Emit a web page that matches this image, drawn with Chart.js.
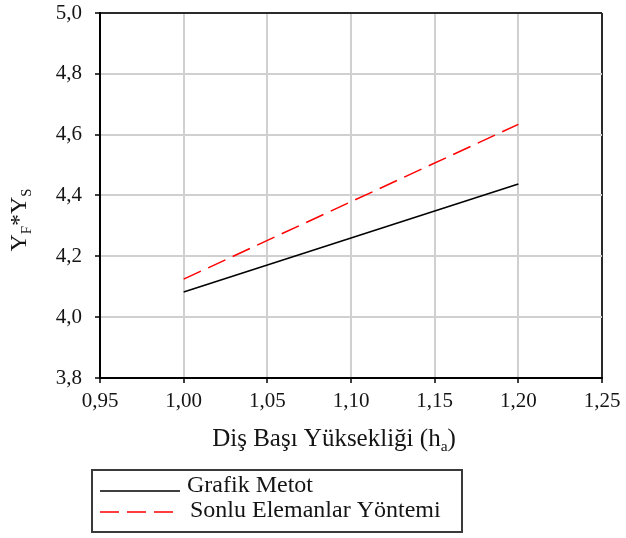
<!DOCTYPE html>
<html>
<head>
<meta charset="utf-8">
<script src="https://cdn.jsdelivr.net/npm/chart.js@4/dist/chart.umd.min.js"></script>
<style>
  html, body { margin: 0; padding: 0; background: #fff; }
  #wrap { width: 626px; height: 538px; }
</style>
</head>
<body>
<div id="wrap"><canvas id="c" width="626" height="538"></canvas></div>
<script>
// Diş başı yüksekliği (ha) values and the two methods' Y_F*Y_S results
const headHeights = [1.00, 1.20];
const grafikMetot = [4.083, 4.438];
const sonluElemanlar = [4.125, 4.634];

const seriesNames = ['Grafik Metot', 'Sonlu Elemanlar Yöntemi'];
const xTickLabels = ['0,95', '1,00', '1,05', '1,10', '1,15', '1,20', '1,25'];
const yTickLabels = ['3,8', '4,0', '4,2', '4,4', '4,6', '4,8', '5,0'];

const SERIF = '"Liberation Serif", "Times New Roman", serif';
const TEXT = '#141414';

const toPoints = (xs, ys) => xs.map((x, i) => ({ x: x, y: ys[i] }));

// Draws a run of text pieces, some as subscripts, starting at (x, baseline)
function drawRich(ctx, parts, x, y, size) {
  let cx = x;
  for (const p of parts) {
    const s = p.sub ? size * 0.62 : size;
    ctx.font = s + 'px ' + SERIF;
    ctx.fillText(p.t, cx, y + (p.sub ? size * 0.2 : 0));
    cx += ctx.measureText(p.t).width;
  }
}
function richWidth(ctx, parts, size) {
  let w = 0;
  for (const p of parts) {
    ctx.font = (p.sub ? size * 0.62 : size) + 'px ' + SERIF;
    w += ctx.measureText(p.t).width;
  }
  return w;
}

// Axis titles with subscripts
const axisTitles = {
  id: 'axisTitles',
  afterDraw(chart) {
    const ctx = chart.ctx;
    ctx.save();
    ctx.fillStyle = TEXT;
    ctx.textBaseline = 'alphabetic';
    ctx.textAlign = 'left';
    // x title
    const xParts = [{ t: 'Diş Başı Yüksekliği (h' }, { t: 'a', sub: true }, { t: ')' }];
    const xw = richWidth(ctx, xParts, 25);
    drawRich(ctx, xParts, 334 - xw / 2, 446, 25);
    // y title, rotated
    const yParts = [{ t: 'Y' }, { t: 'F', sub: true }, { t: '*Y' }, { t: 'S', sub: true }];
    const yw = richWidth(ctx, yParts, 24);
    ctx.translate(26, 220);
    ctx.rotate(-Math.PI / 2);
    drawRich(ctx, yParts, -yw / 2, 0, 24);
    ctx.restore();
  }
};

// Framed legend with line samples taken from the datasets
const framedLegend = {
  id: 'framedLegend',
  afterDraw(chart) {
    const ctx = chart.ctx;
    ctx.save();
    ctx.strokeStyle = '#3a3a3a';
    ctx.lineWidth = 2;
    ctx.strokeRect(92, 470, 370, 62);
    const rows = [
      { lineY: 491, textX: 187, base: 492, lineEnd: 180 },
      { lineY: 512, textX: 190, base: 517, lineEnd: 173 }
    ];
    chart.data.datasets.forEach((ds, i) => {
      const r = rows[i];
      ctx.strokeStyle = ds.borderColor;
      ctx.lineWidth = ds.borderWidth;
      ctx.setLineDash(ds.borderDash || []);
      ctx.beginPath();
      ctx.moveTo(100, r.lineY);
      ctx.lineTo(r.lineEnd, r.lineY);
      ctx.stroke();
      ctx.setLineDash([]);
      ctx.fillStyle = TEXT;
      ctx.font = '24px ' + SERIF;
      ctx.textBaseline = 'alphabetic';
      ctx.textAlign = 'left';
      ctx.fillText(ds.label, r.textX, r.base);
    });
    ctx.restore();
  }
};

const gridColor = (ctx) => ctx.index === 6 ? '#2a2a2a' : '#d0d0d0';

new Chart(document.getElementById('c'), {
  type: 'line',
  data: {
    datasets: [
      {
        label: seriesNames[0],
        data: toPoints(headHeights, grafikMetot),
        borderColor: '#000000',
        borderWidth: 1.5,
        pointRadius: 0,
        tension: 0
      },
      {
        label: seriesNames[1],
        data: toPoints(headHeights, sonluElemanlar),
        borderColor: '#ff0000',
        borderWidth: 1.5,
        borderDash: [19, 8],
        pointRadius: 0,
        tension: 0
      }
    ]
  },
  options: {
    responsive: false,
    animation: false,
    layout: { padding: { left: 0, right: 24, top: 13, bottom: 100 } },
    plugins: {
      legend: { display: false },
      tooltip: { enabled: false }
    },
    scales: {
      x: {
        type: 'linear',
        min: 0.95,
        max: 1.25,
        afterFit: (s) => { s.height = 60; s.paddingLeft = 0; s.paddingRight = 0; },
        afterBuildTicks: (s) => {
          s.ticks = xTickLabels.map((_, i) => ({ value: 0.95 + i * 0.05 }));
        },
        ticks: {
          callback: (v, i) => xTickLabels[i],
          font: { family: SERIF, size: 21 },
          color: TEXT,
          padding: 6,
          maxRotation: 0,
          autoSkip: false
        },
        grid: {
          color: gridColor,
          lineWidth: 2,
          tickColor: '#000',
          tickWidth: 1.5,
          tickLength: 5,
          drawTicks: true
        },
        border: { color: '#000', width: 2 }
      },
      y: {
        type: 'linear',
        min: 3.8,
        max: 5.0,
        afterFit: (s) => { s.width = 100; s.paddingTop = 0; s.paddingBottom = 0; },
        afterBuildTicks: (s) => {
          s.ticks = yTickLabels.map((_, i) => ({ value: 3.8 + i * 0.2 }));
        },
        ticks: {
          callback: (v, i) => yTickLabels[i],
          font: { family: SERIF, size: 21 },
          color: TEXT,
          padding: 13,
          autoSkip: false
        },
        grid: {
          color: gridColor,
          lineWidth: 2,
          tickColor: '#000',
          tickWidth: 1.5,
          tickLength: 5,
          drawTicks: true
        },
        border: { color: '#000', width: 2 }
      }
    }
  },
  plugins: [axisTitles, framedLegend]
});
</script>
</body>
</html>
